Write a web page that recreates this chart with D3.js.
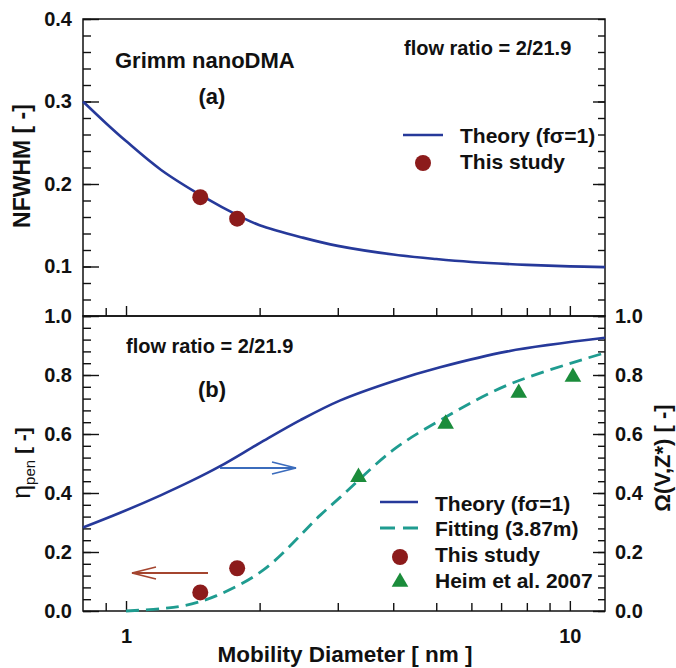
<!DOCTYPE html>
<html>
<head>
<meta charset="utf-8">
<script src="https://cdn.jsdelivr.net/npm/d3@7"></script>
<style>
body{margin:0;background:#fff}
text{font-family:"Liberation Sans",Arial,Helvetica,sans-serif;font-weight:bold;fill:#111}
</style>
</head>
<body>
<svg id="chart" width="676" height="668"></svg>
<script>
// panel (a) - NFWHM vs mobility diameter
var theoryA_d   = [0.8, 0.9, 1.0, 1.2, 1.5, 1.8, 2.0, 2.5, 3.0, 4.0, 5.0, 6.0, 8.0, 10, 12];
var theoryA_val = [0.300, 0.274, 0.252, 0.217, 0.184, 0.161, 0.150, 0.135, 0.125, 0.1145, 0.109, 0.1055, 0.102, 0.1002, 0.0993];
var studyA_d    = [1.47, 1.78];
var studyA_val  = [0.184, 0.158];

// panel (b) - penetration / transfer function
var theoryB_d   = [0.8, 0.97, 1.2, 1.4, 1.63, 2.0, 2.47, 3.04, 4.0, 5.1, 7.24, 12];
var theoryB_val = [0.283, 0.333, 0.393, 0.440, 0.491, 0.569, 0.647, 0.714, 0.779, 0.826, 0.880, 0.926];
var fitB_d      = [1.0, 1.2, 1.37, 1.6, 2.04, 2.74, 3.04, 4.0, 5.11, 7.24, 12];
var fitB_val    = [0.0, 0.008, 0.02, 0.052, 0.139, 0.325, 0.386, 0.546, 0.647, 0.766, 0.875];
var studyB_d    = [1.47, 1.78];
var studyB_val  = [0.063, 0.145];
var heim_d      = [3.34, 5.25, 7.67, 10.16];
var heim_val    = [0.454, 0.634, 0.739, 0.793];

// ticks
var xMajor   = [1, 10];
var xMinor   = [0.9, 2, 3, 4, 5, 6, 7, 8, 9];
var yA_major = [0.1, 0.2, 0.3, 0.4];
var yB_major = [0.0, 0.2, 0.4, 0.6, 0.8, 1.0];

var blue = '#26399a', red = '#8c1b1b', teal = '#1f9c90', green = '#1b8c3b';

var L = 83, R = 605, T = 19, M = 316, B = 611;

var svg = d3.select('#chart');

var x  = d3.scaleLog().domain([0.8, 12]).range([L, R]);
var yA = d3.scaleLinear().domain([0.04, 0.4]).range([M, T]);
var yB = d3.scaleLinear().domain([0, 1]).range([B, M]);

var yA_minor = d3.range(0.04, 0.4001, 0.02);
var yB_minor = d3.range(0, 1.0001, 0.04);

function clean(g){
  g.select('.domain').remove();
  g.selectAll('.tick line').attr('stroke', '#111').attr('stroke-width', 1.4);
  g.attr('font-size', 20);
}

// left axes
svg.append('g').attr('transform', 'translate(' + L + ',0)')
  .call(d3.axisLeft(yA).tickValues(yA_minor).tickSize(-8).tickFormat('')).call(clean);
svg.append('g').attr('transform', 'translate(' + L + ',0)')
  .call(d3.axisLeft(yA).tickValues(yA_major).tickSize(-16).tickPadding(11).tickFormat(d3.format('.1f'))).call(clean);
svg.append('g').attr('transform', 'translate(' + L + ',0)')
  .call(d3.axisLeft(yB).tickValues(yB_minor).tickSize(-8).tickFormat('')).call(clean);
svg.append('g').attr('transform', 'translate(' + L + ',0)')
  .call(d3.axisLeft(yB).tickValues(yB_major).tickSize(-16).tickPadding(11).tickFormat(d3.format('.1f'))).call(clean);

// right axes
svg.append('g').attr('transform', 'translate(' + R + ',0)')
  .call(d3.axisRight(yA).tickValues(yA_minor).tickSize(-7).tickFormat('')).call(clean);
svg.append('g').attr('transform', 'translate(' + R + ',0)')
  .call(d3.axisRight(yA).tickValues(yA_major.slice(0, 3)).tickSize(-12).tickFormat('')).call(clean);
svg.append('g').attr('transform', 'translate(' + R + ',0)')
  .call(d3.axisRight(yB).tickValues(yB_minor).tickSize(-7).tickFormat('')).call(clean);
svg.append('g').attr('transform', 'translate(' + R + ',0)')
  .call(d3.axisRight(yB).tickValues(yB_major).tickSize(-12).tickPadding(10).tickFormat(d3.format('.1f'))).call(clean);

// x axes (bottom of each panel, ticks inward)
[M, B].forEach(function(yy){
  svg.append('g').attr('transform', 'translate(0,' + yy + ')')
    .call(d3.axisBottom(x).tickValues(xMinor).tickSize(-8).tickFormat('')).call(clean);
  svg.append('g').attr('transform', 'translate(0,' + yy + ')')
    .call(d3.axisBottom(x).tickValues(xMajor).tickSize(-10).tickPadding(18)
      .tickFormat(yy === B ? d3.format('d') : '')).call(clean);
});

// frames
svg.append('rect').attr('x', L).attr('y', T).attr('width', R - L).attr('height', M - T)
  .attr('fill', 'none').attr('stroke', '#111').attr('stroke-width', 1.5);
svg.append('rect').attr('x', L).attr('y', M).attr('width', R - L).attr('height', B - M)
  .attr('fill', 'none').attr('stroke', '#111').attr('stroke-width', 1.5);

// curves
var smooth = d3.curveCatmullRom.alpha(0.5);
var lineA = d3.line().x(function(d){ return x(d[0]); }).y(function(d){ return yA(d[1]); }).curve(smooth);
var lineB = d3.line().x(function(d){ return x(d[0]); }).y(function(d){ return yB(d[1]); }).curve(smooth);

svg.append('path').datum(d3.zip(theoryA_d, theoryA_val)).attr('d', lineA)
  .attr('fill', 'none').attr('stroke', blue).attr('stroke-width', 2.6);
svg.append('path').datum(d3.zip(theoryB_d, theoryB_val)).attr('d', lineB)
  .attr('fill', 'none').attr('stroke', blue).attr('stroke-width', 2.6);
svg.append('path').datum(d3.zip(fitB_d, fitB_val)).attr('d', lineB)
  .attr('fill', 'none').attr('stroke', teal).attr('stroke-width', 2.8).attr('stroke-dasharray', '13,7');

// markers
svg.selectAll('.ptA').data(d3.zip(studyA_d, studyA_val)).enter().append('circle')
  .attr('cx', function(d){ return x(d[0]); }).attr('cy', function(d){ return yA(d[1]); })
  .attr('r', 8).attr('fill', red);
svg.selectAll('.ptB').data(d3.zip(studyB_d, studyB_val)).enter().append('circle')
  .attr('cx', function(d){ return x(d[0]); }).attr('cy', function(d){ return yB(d[1]); })
  .attr('r', 8).attr('fill', red);
var tri = d3.symbol().type(d3.symbolTriangle).size(120);
svg.selectAll('.heim').data(d3.zip(heim_d, heim_val)).enter().append('path')
  .attr('d', tri).attr('fill', green)
  .attr('transform', function(d){ return 'translate(' + x(d[0]) + ',' + yB(d[1]) + ')'; });

// arrows
function arrow(x1, x2, y, col){
  var dir = x2 > x1 ? 1 : -1;
  svg.append('line').attr('x1', x1).attr('x2', x2).attr('y1', y).attr('y2', y)
    .attr('stroke', col).attr('stroke-width', 1.8);
  svg.append('path')
    .attr('d', 'M' + (x2 - dir * 24) + ',' + (y - 6) + 'L' + x2 + ',' + y + 'L' + (x2 - dir * 24) + ',' + (y + 6))
    .attr('fill', 'none').attr('stroke', col).attr('stroke-width', 1.6);
}
arrow(220, 296, 468, '#3b6cbc');
arrow(208, 132, 573, '#a4452f');

// annotations
function label(tx, ty, s, size, anchor){
  return svg.append('text').attr('x', tx).attr('y', ty).attr('font-size', size)
    .attr('text-anchor', anchor || 'start').text(s);
}
label(115, 68, 'Grimm nanoDMA', 22);
label(212, 104, '(a)', 22, 'middle');
label(404, 55, 'flow ratio = 2/21.9', 20);
label(126, 353, 'flow ratio = 2/21.9', 20);
label(212, 397, '(b)', 22, 'middle');

// legend (a)
svg.append('line').attr('x1', 403).attr('x2', 443).attr('y1', 135).attr('y2', 135)
  .attr('stroke', blue).attr('stroke-width', 2.6);
label(460, 143, 'Theory (f\u03c3=1)', 21);
svg.append('circle').attr('cx', 423).attr('cy', 163).attr('r', 8).attr('fill', red);
label(460, 169, 'This study', 21);

// legend (b)
svg.append('line').attr('x1', 380).attr('x2', 418).attr('y1', 502).attr('y2', 502)
  .attr('stroke', blue).attr('stroke-width', 2.6);
label(435, 511, 'Theory (f\u03c3=1)', 21);
svg.append('line').attr('x1', 380).attr('x2', 418).attr('y1', 528).attr('y2', 528)
  .attr('stroke', teal).attr('stroke-width', 2.8).attr('stroke-dasharray', '15,8');
label(435, 536, 'Fitting (3.87m)', 21);
svg.append('circle').attr('cx', 400).attr('cy', 557).attr('r', 8).attr('fill', red);
label(435, 562, 'This study', 21);
svg.append('path').attr('d', tri).attr('fill', green).attr('transform', 'translate(400,582)');
label(435, 588, 'Heim et al. 2007', 21);

// axis titles
label(345, 662, 'Mobility Diameter [ nm ]', 22.5, 'middle');
svg.append('text').attr('transform', 'translate(30,166) rotate(-90)')
  .attr('text-anchor', 'middle').attr('font-size', 23).text('NFWHM [ -]');

var eta = svg.append('text').attr('transform', 'translate(30,463) rotate(-90)')
  .attr('text-anchor', 'middle');
eta.append('tspan').attr('font-size', 25).attr('font-weight', 'normal').text('\u03b7');
eta.append('tspan').attr('font-size', 15).attr('font-weight', 'normal').attr('dy', 5).text('pen');
eta.append('tspan').attr('font-size', 21).attr('dy', -5).text(' [ -]');

svg.append('text').attr('transform', 'translate(670,458) rotate(-90)')
  .attr('text-anchor', 'middle').attr('font-size', 22).text('\u03a9(V,Z*) [ -]');
</script>
</body>
</html>
